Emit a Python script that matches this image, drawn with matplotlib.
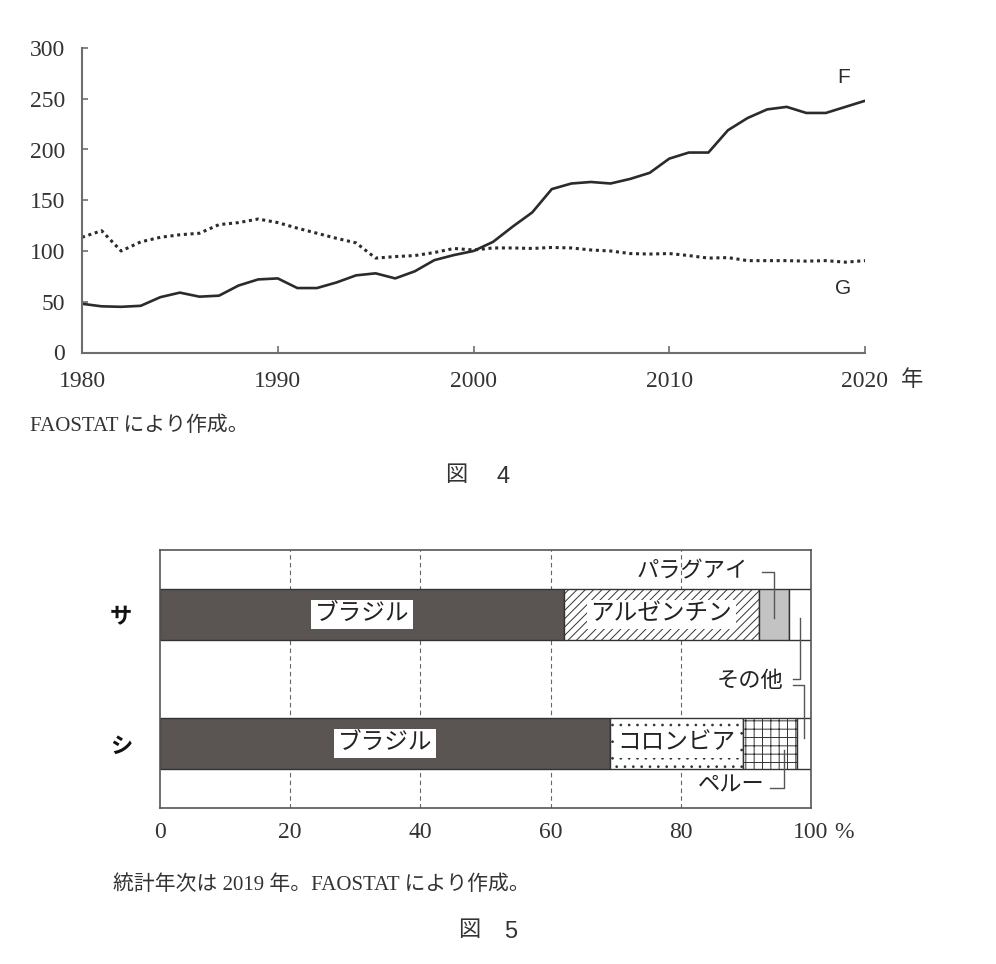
import numpy as np
from matplotlib import pyplot as plt

plt.rcParams['font.family'] = ['Liberation Serif', 'Noto Sans CJK JP']
plt.rcParams['hatch.linewidth'] = 0.7

# Data : figure 4 #
years = list(range(1980, 2021))
f_values = [48, 45.5, 45, 46, 54.5, 59, 55, 56, 66, 72,
            73, 63.5, 63.5, 69, 76, 78, 73, 80, 91, 96,
            100, 109, 124, 138, 161, 166.5, 168, 166.5, 171, 177,
            191, 197, 197, 219, 231, 239.5, 242, 236, 236, 242,
            248]
g_values = [113.5, 120, 100, 109, 113.5, 116, 117.5, 126, 128, 131.5,
            128, 122.5, 117.5, 112.5, 108, 93, 94.5, 95.5, 98.5, 102.5,
            101, 103, 103, 102.5, 103.5, 103, 101, 100, 97.5, 97,
            97.5, 95.5, 93, 93.5, 90.5, 90.5, 90.5, 90, 90.5, 89,
            90.5]
year_ticks = [1980, 1990, 2000, 2010, 2020]
value_ticks = [0, 50, 100, 150, 200, 250, 300]

# Data : figure 5 #
rows = ['サ', 'シ']
sa_names = ['ブラジル', 'アルゼンチン', 'パラグアイ', 'その他']
sa_shares = [62.0, 30.0, 4.6, 3.4]
shi_names = ['ブラジル', 'コロンビア', 'ペルー', 'その他']
shi_shares = [69.2, 20.3, 8.4, 2.1]
share_ticks = [0, 20, 40, 60, 80, 100]

W, H = 996, 964
fig = plt.figure(figsize=(W / 100, H / 100), dpi=100)
grey = '#6e6e6e'
ink = '#2b2b2b'


def fx(px):
    return px / W


def fy(py):
    return 1 - py / H


# Figure 4 #
ax1 = fig.add_axes([fx(82), fy(352.5), (865 - 82) / W, (352.5 - 48) / H])
ax1.plot(years, f_values, color=ink, lw=1.9, solid_joinstyle='round')
ax1.plot(years, g_values, color=ink, lw=2.2, linestyle=(0, (1, 1.2)))
ax1.set_xlim(1980, 2020)
ax1.set_ylim(0, 300)
ax1.set_xticks(year_ticks)
ax1.set_yticks(value_ticks)
for side in ['top', 'right']:
    ax1.spines[side].set_visible(False)
for side in ['left', 'bottom']:
    ax1.spines[side].set_color(grey)
    ax1.spines[side].set_linewidth(1.5)
ax1.tick_params(axis='x', direction='in', length=5, color=grey, width=1.2,
                labelsize=17, labelcolor='#333333', pad=13)
ax1.tick_params(axis='y', direction='in', length=4, color=grey, width=1.2,
                labelsize=17, labelcolor='#333333', pad=12)
ax1.text(2022.4, -27, '年', fontsize=16, color='#333333', ha='center',
         va='center', family='Noto Sans CJK JP', clip_on=False)
ax1.text(2018.9, 271, 'F', fontsize=15, color=ink, ha='center', va='center',
         family='Liberation Sans')
ax1.text(2018.9, 63.5, 'G', fontsize=15, color=ink, ha='center', va='center',
         family='Liberation Sans')

fig.text(fx(30), fy(426), 'FAOSTAT により作成。', fontsize=15, color='#333333',
         ha='left', va='center')
fig.text(fx(456), fy(476), '図', fontsize=16, color='#333333',
         ha='center', va='center')
fig.text(fx(503), fy(477), '4', fontsize=17, color='#333333',
         ha='center', va='center', family='Liberation Sans')

# Figure 5 #
ax2 = fig.add_axes([fx(160), fy(808), (811 - 160) / W, (808 - 550) / H])
ax2.set_xlim(0, 100)
ax2.set_ylim(0, 5)
row_y = [3.75, 1.25]
bar_h = 1.0
dark = '#5a5553'

styles_sa = [dict(color=dark), dict(color='white', hatch='////'),
             dict(color='#c3c3c3'), dict(color='white')]
styles_shi = [dict(color=dark), dict(color='white', hatch='..'),
              dict(color='white', hatch='++'), dict(color='white')]

for y, names, shares, styles in [(row_y[0], sa_names, sa_shares, styles_sa),
                                 (row_y[1], shi_names, shi_shares, styles_shi)]:
    left = 0
    for name, share, st in zip(names, shares, styles):
        ax2.barh(y, share, left=left, height=bar_h, color=st['color'],
                 hatch=st.get('hatch'), edgecolor='#333333', linewidth=1.0,
                 zorder=2)
        left += share
    # labels inside the first two segments
    mid0 = shares[0] / 2
    mid1 = shares[0] + shares[1] / 2
    for xm, name in [(mid0, names[0]), (mid1, names[1])]:
        ax2.text(xm, y, name, fontsize=17, color='#222222', ha='center',
                 va='center', zorder=4,
                 bbox=dict(facecolor='white', edgecolor='none', pad=2.5))

for xg in share_ticks[1:-1]:
    ax2.axvline(xg, color='#666666', lw=0.8, linestyle=(0, (4, 3)), zorder=1)

ax2.set_xticks(share_ticks)
ax2.set_yticks(row_y)
ax2.set_yticklabels(rows, family='Noto Sans CJK JP', fontweight='bold')
ax2.tick_params(axis='x', length=0, labelsize=17, labelcolor='#333333', pad=10)
ax2.tick_params(axis='y', length=0, labelsize=16, labelcolor='#111111', pad=20)
for side in ax2.spines:
    ax2.spines[side].set_color('#555555')
    ax2.spines[side].set_linewidth(1.2)
ax2.annotate('%', xy=(100, 0), xytext=(24, -10), textcoords='offset points',
             fontsize=17, color='#333333', ha='center', va='top')

# leader lines for small segments
line_kw = dict(color='#555555', lw=1.0, clip_on=False, zorder=5)
pa_x = sa_shares[0] + sa_shares[1] + sa_shares[2] / 2
sa_other_x = 100 - sa_shares[3] / 2
shi_other_x = 100 - shi_shares[3] / 2
pe_x = shi_shares[0] + shi_shares[1] + shi_shares[2] * 0.75

ax2.text(90.3, 4.57, 'パラグアイ', fontsize=16, color='#222222',
         ha='right', va='center')
ax2.plot([92.4, pa_x, pa_x], [4.57, 4.57, 3.68], **line_kw)

ax2.text(95.7, 2.44, 'その他', fontsize=16, color='#222222',
         ha='right', va='center')
ax2.plot([97.2, sa_other_x, sa_other_x], [2.50, 2.50, 3.68], **line_kw)
ax2.plot([97.2, shi_other_x, shi_other_x], [2.38, 2.38, 1.36], **line_kw)

ax2.text(92.9, 0.41, 'ペルー', fontsize=16, color='#222222',
         ha='right', va='center')
ax2.plot([93.7, pe_x, pe_x], [0.39, 0.39, 1.12], **line_kw)

fig.text(fx(113), fy(885), '統計年次は 2019 年。FAOSTAT により作成。', fontsize=15,
         color='#333333', ha='left', va='center')
fig.text(fx(469), fy(931), '図', fontsize=16, color='#333333',
         ha='center', va='center')
fig.text(fx(511), fy(932), '5', fontsize=17, color='#333333',
         ha='center', va='center', family='Liberation Sans')

fig.savefig('out.png', dpi=100)
